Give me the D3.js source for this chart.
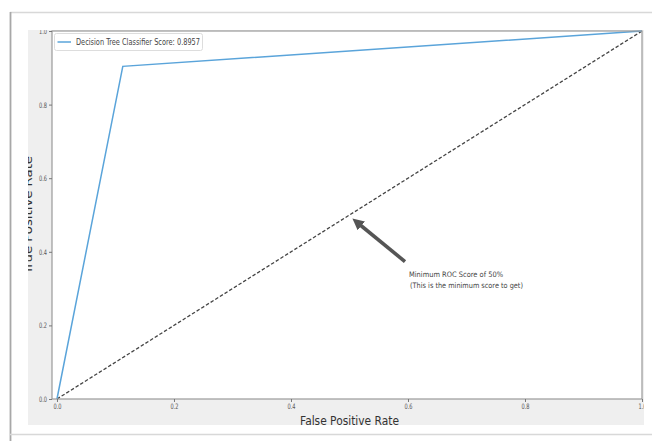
<!DOCTYPE html>
<html>
<head>
<meta charset="utf-8">
<script src="https://cdn.jsdelivr.net/npm/d3@7"></script>
<style>
  html, body { margin: 0; padding: 0; background: #ffffff; }
  svg { display: block; }
  text { font-family: "DejaVu Sans", sans-serif; }
</style>
</head>
<body>
<div id="chart"></div>
<script>
// ---- data ----
const seriesName = "Decision Tree Classifier Score: 0.8957";
const fpr = [0, 0.1125, 1];
const tpr = [0, 0.9039, 1];
const chanceX = [0, 1];
const chanceY = [0, 1];
const xTicks = [0, 0.2, 0.4, 0.6, 0.8, 1.0];
const xTickLabels = ["0.0", "0.2", "0.4", "0.6", "0.8", "1.0"];
const yTicks = [0, 0.2, 0.4, 0.6, 0.8, 1.0];
const yTickLabels = ["0.0", "0.2", "0.4", "0.6", "0.8", "1.0"];
const xLabel = "False Positive Rate";
const yLabel = "True Positive Rate";
const annLines = ["Minimum ROC Score of 50%", " (This is the minimum score to get)"];
const annPoint = [0.5, 0.5];
const annText = [0.6, 0.3];

// ---- layout ----
const W = 652, H = 441;
const fig = { x0: 28, y0: 30, x1: 644, y1: 425 };
const svg = d3.select("#chart").append("svg").attr("width", W).attr("height", H);

// window frame
svg.append("line").attr("x1", 10).attr("x2", W).attr("y1", 12.5).attr("y2", 12.5)
  .attr("stroke", "#d8d8d8").attr("stroke-width", 1.5);
svg.append("line").attr("x1", 10.5).attr("x2", 10.5).attr("y1", 12).attr("y2", H)
  .attr("stroke", "#a8a8a8").attr("stroke-width", 1.8);
svg.append("line").attr("x1", 10).attr("x2", W).attr("y1", 434.5).attr("y2", 434.5)
  .attr("stroke", "#d8d8d8").attr("stroke-width", 1.5);

const defs = svg.append("defs");
defs.append("clipPath").attr("id", "figclip").append("rect")
  .attr("x", fig.x0).attr("y", fig.y0).attr("width", fig.x1 - fig.x0).attr("height", fig.y1 - fig.y0);
defs.append("marker").attr("id", "head").attr("viewBox", "0 0 10 10")
  .attr("refX", 6).attr("refY", 5).attr("markerWidth", 3.2).attr("markerHeight", 3.2)
  .attr("markerUnits", "strokeWidth").attr("orient", "auto")
  .append("path").attr("d", "M0,0 L10,5 L0,10 Z").attr("fill", "#555");

const g = svg.append("g").attr("clip-path", "url(#figclip)");
g.append("rect").attr("x", fig.x0).attr("y", fig.y0).attr("width", fig.x1 - fig.x0)
  .attr("height", fig.y1 - fig.y0).attr("fill", "#efefef");

const x = d3.scaleLinear().domain([-0.0085, 1]).range([52, 642]);
const y = d3.scaleLinear().domain([0, 1]).range([399, 31]);

// plot background
g.append("rect").attr("x", x(-0.0085)).attr("y", y(1)).attr("width", x(1) - x(-0.0085))
  .attr("height", y(0) - y(1)).attr("fill", "#ffffff");

// chance line
g.append("path").datum(chanceX.map((d, i) => [d, chanceY[i]]))
  .attr("d", d3.line().x(d => x(d[0])).y(d => y(d[1])))
  .attr("fill", "none").attr("stroke", "#444").attr("stroke-width", 1.3)
  .attr("stroke-dasharray", "3.5,2");

// ROC line
g.append("path").datum(fpr.map((d, i) => [d, tpr[i]]))
  .attr("d", d3.line().x(d => x(d[0])).y(d => y(d[1])))
  .attr("fill", "none").attr("stroke", "#5aa4da").attr("stroke-width", 1.5);

// spines
const spine = g.append("g").attr("stroke", "#999").attr("stroke-width", 1.2).attr("fill", "none");
spine.append("rect").attr("x", x(-0.0085)).attr("y", y(1)).attr("width", x(1) - x(-0.0085))
  .attr("height", y(0) - y(1));

// axes
const xAxis = g.append("g").attr("transform", `translate(0,${y(0)})`)
  .call(d3.axisBottom(x).tickValues(xTicks).tickFormat((d, i) => xTickLabels[i]).tickSize(3).tickPadding(2));
const yAxis = g.append("g").attr("transform", `translate(${x(-0.0085)},0)`)
  .call(d3.axisLeft(y).tickValues(yTicks).tickFormat((d, i) => yTickLabels[i]).tickSize(3).tickPadding(2));
[xAxis, yAxis].forEach(a => {
  a.select(".domain").remove();
  a.selectAll(".tick line").attr("stroke", "#777");
  a.selectAll(".tick text").attr("fill", "#555").attr("font-size", 7.5)
    .attr("font-family", "DejaVu Sans, sans-serif");
});
xAxis.selectAll(".tick text").attr("textLength", 8).attr("lengthAdjust", "spacingAndGlyphs");
yAxis.selectAll(".tick text").attr("textLength", 8).attr("lengthAdjust", "spacingAndGlyphs");

// axis labels
g.append("text").attr("x", (x(0) + x(1)) / 2).attr("y", 425).attr("text-anchor", "middle")
  .attr("font-size", 12.5).attr("fill", "#333").attr("textLength", 99)
  .attr("lengthAdjust", "spacingAndGlyphs").text(xLabel);
g.append("text").attr("transform", `translate(31.5,${(y(0) + y(1)) / 2}) rotate(-90)`)
  .attr("text-anchor", "middle").attr("font-size", 12.5).attr("fill", "#333")
  .attr("textLength", 118).attr("lengthAdjust", "spacingAndGlyphs").text(yLabel);

// legend
const lg = g.append("g");
lg.append("rect").attr("x", 54.5).attr("y", 33.5).attr("width", 148).attr("height", 17).attr("rx", 2)
  .attr("fill", "#fff").attr("stroke", "#ddd").attr("stroke-width", 1);
lg.append("line").attr("x1", 57.5).attr("x2", 71).attr("y1", 42).attr("y2", 42)
  .attr("stroke", "#5aa4da").attr("stroke-width", 1.5);
lg.append("text").attr("x", 76).attr("y", 45).attr("font-size", 8).attr("fill", "#444")
  .attr("textLength", 124).attr("lengthAdjust", "spacingAndGlyphs").text(seriesName);

// annotation
const tip = [x(annPoint[0]) + 2.5, y(annPoint[1]) + 2.5];
const tail = [x(annText[0]) - 3, y(annText[1]) - 27];
g.append("line").attr("x1", tail[0]).attr("y1", tail[1]).attr("x2", tip[0] + 4).attr("y2", tip[1] + 4)
  .attr("stroke", "#555").attr("stroke-width", 3.6).attr("marker-end", "url(#head)");
const annWidths = [94, 115];
annLines.forEach((t, i) => {
  g.append("text").attr("x", x(annText[0]) + (i === 0 ? 1 : 0)).attr("y", y(annText[1]) - 12 + i * 11.5)
    .attr("font-size", 7.5).attr("fill", "#444").attr("xml:space", "preserve")
    .attr("textLength", annWidths[i]).attr("lengthAdjust", "spacingAndGlyphs").text(t);
});
</script>
</body>
</html>
